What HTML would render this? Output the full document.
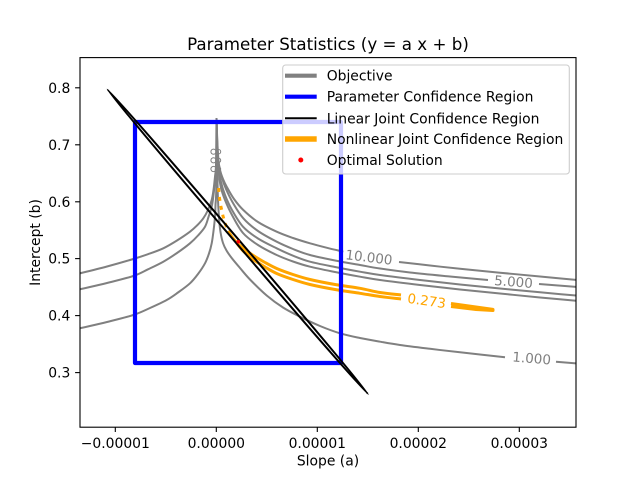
<!DOCTYPE html>
<html><head><meta charset="utf-8"><style>
html,body{margin:0;padding:0;background:#fff;}
svg{display:block;}
text{font-family:"DejaVu Sans","Liberation Sans",sans-serif;}
</style></head><body>
<svg id="fig" width="640" height="480" viewBox="0 0 640 480" xmlns="http://www.w3.org/2000/svg">
<defs><clipPath id="ax"><rect x="80" y="57.6" width="496" height="369.6"/></clipPath></defs>
<rect width="640" height="480" fill="#fff"/>
<g clip-path="url(#ax)" fill="none" stroke-linejoin="round" stroke-linecap="butt">
 <g stroke="#808080" stroke-width="2">
  <polyline class="s" points="216.5,118 216.5,160 215,176.7 213.5,190 211.7,200 208,210 203.3,218.3 197,225.5 190,231.7 177,240.5 163.3,248.3 148,254.2 133.3,259 107,266.5 80,273.3 60,278"/>
  <polyline class="s" points="216.5,118 216,165 215,180 213.5,195 211.7,206.7 208.5,217 205,226.7 198,235.5 190,243.3 177,253 163.3,261.7 148,269.3 133.3,276 107,283 80,289.3 60,294"/>
  <polyline class="s" points="216.5,118 216.3,186.7 215.5,205 215,216.7 213.5,231 211.7,243.3 209,253.5 205,263.3 198,274 190,283.3 178,292.5 166.7,300 150,308 133.3,315 107,322 80,328.3 60,333"/>
  <polyline class="s" points="216.5,118 217,140 218,158 220,170 223,179 226.7,186.7 234,199 243.3,210 258,222 276.7,231.7 293,238 310,243.3 327,247.8 343.3,251.7"/>
  <polyline class="s" points="399,262 430,265.5 460,268.8 500,272.7 540,276.5 590,281.2"/>
  <polyline class="s" points="216.5,118 217.5,145 219,165 222,178 226,189 233,203 243.3,218.3 258,231 276.7,241.7 293,249 310,255 335,260.5 360,265 380,268.5 410,272.5 450,276.5 488,280"/>
  <polyline class="s" points="539,284 590,288"/>
  <polyline class="s" points="216.5,118 217.5,150 219,170 221,182 225,195 232,210 243,226.7 258,238.5 276.7,248.3 293,255.7 310,261.7 335,267 360,271.7 380,275 420,280 460,284.5 500,288.5 540,292.3 590,296.8"/>
  <polyline class="s" points="216.5,118 217.5,155 219,175 221,188 225,200 232,215 243,233 258,245 276.7,255 293,261.5 310,266.7 335,272 360,276.7 380,280 420,285 460,289.5 500,293.5 540,297.5 590,302"/>
  <polyline class="s" points="216.5,118 217,160 217.8,195 219,218 220.5,232 223,243 226.5,250.5 231.7,258 240,268 250,279.5 266.7,295.5 283,307.5 300,316.7 320,326 340,333.3 360,338 380,341.7 400,345 430,348.8 460,352.3 505,357.3"/>
  <polyline class="s" points="556,361.7 590,364.5"/>
 </g>
 <g stroke="#808080" stroke-width="1" fill="none">
  <circle cx="213.5" cy="151.7" r="2.6"/><circle cx="213.5" cy="160.3" r="2.6"/><circle cx="213.5" cy="169" r="2.6"/>
  <circle cx="218.5" cy="151.7" r="2.2"/><circle cx="218.5" cy="160.3" r="2.2"/><circle cx="218.5" cy="169" r="2.2"/>
 </g>
 <g stroke="#ffa500" stroke-width="3">
  <polyline points="218.5,188 219.5,198 221,207 223,216 225,223 228,231" stroke-dasharray="4,5"/>
  <polyline class="s" points="228,231 232,237 236.7,242.5 243.3,248.3 253.3,255.5 265,262.5 276.7,268.5 293,274.5 310,279.5 335,284.5 360,288.3 380,292.5 401,295"/>
  <polyline class="s" points="236.7,243 243.3,251 253.3,259.5 265,267 276.7,273.5 293,279.5 310,284.5 335,289.5 360,293.3 380,296.5 401,299"/>
  <polyline points="451,303.5 476,307 493,309.3 493,310.5 476,309.5 451,306.5"/>
 </g>
 <rect x="135" y="122" width="206" height="241" stroke="#0000ff" stroke-width="4.2" fill="none"/>
 <ellipse cx="237.75" cy="241.75" rx="200.4" ry="2" transform="rotate(49.45 237.75 241.75)" stroke="#000" stroke-width="2" fill="none"/>
 <circle cx="238.3" cy="241.7" r="1.8" fill="#ff0000" stroke="none"/>
</g>
<g font-size="13.5" fill="#808080">
 <text x="369" y="262" text-anchor="middle" transform="rotate(7 369 257)">10.000</text>
 <text x="513.5" y="286.5" text-anchor="middle" transform="rotate(4.5 513.5 281.7)">5.000</text>
 <text x="531.7" y="363" text-anchor="middle" transform="rotate(4.8 531.7 358.3)">1.000</text>
 <text x="426.7" y="305.5" text-anchor="middle" fill="#ffa500" transform="rotate(8 426.7 300.7)">0.273</text>
</g>
<rect x="80" y="57.6" width="496" height="369.6" fill="none" stroke="#000" stroke-width="1.1"/>
<g stroke="#000" stroke-width="1.1">
 <line x1="115.3" y1="427.2" x2="115.3" y2="432"/>
 <line x1="216.3" y1="427.2" x2="216.3" y2="432"/>
 <line x1="317.3" y1="427.2" x2="317.3" y2="432"/>
 <line x1="418.3" y1="427.2" x2="418.3" y2="432"/>
 <line x1="519.3" y1="427.2" x2="519.3" y2="432"/>
 <line x1="75.1" y1="87.8" x2="80" y2="87.8"/>
 <line x1="75.1" y1="144.8" x2="80" y2="144.8"/>
 <line x1="75.1" y1="201.8" x2="80" y2="201.8"/>
 <line x1="75.1" y1="258.6" x2="80" y2="258.6"/>
 <line x1="75.1" y1="315.6" x2="80" y2="315.6"/>
 <line x1="75.1" y1="372.6" x2="80" y2="372.6"/>
</g>
<g font-size="13.9" fill="#000">
 <text x="115.3" y="448" text-anchor="middle">−0.00001</text>
 <text x="216.3" y="448" text-anchor="middle">0.00000</text>
 <text x="317.3" y="448" text-anchor="middle">0.00001</text>
 <text x="418.3" y="448" text-anchor="middle">0.00002</text>
 <text x="519.3" y="448" text-anchor="middle">0.00003</text>
 <text x="70.3" y="92.8" text-anchor="end">0.8</text>
 <text x="70.3" y="149.8" text-anchor="end">0.7</text>
 <text x="70.3" y="206.8" text-anchor="end">0.6</text>
 <text x="70.3" y="263.6" text-anchor="end">0.5</text>
 <text x="70.3" y="320.6" text-anchor="end">0.4</text>
 <text x="70.3" y="377.6" text-anchor="end">0.3</text>
 <text x="328" y="465.5" text-anchor="middle">Slope (a)</text>
 <text x="0" y="0" text-anchor="middle" transform="translate(40 242.5) rotate(-90)">Intercept (b)</text>
</g>
<text x="328" y="50" text-anchor="middle" font-size="16.7" fill="#000">Parameter Statistics (y = a x + b)</text>
<rect x="282.7" y="65" width="286.6" height="109" rx="3" ry="3" fill="#fff" fill-opacity="0.8" stroke="#cccccc" stroke-width="1.1"/>
<g stroke-linecap="butt">
 <line x1="285" y1="75.7" x2="316.7" y2="75.7" stroke="#808080" stroke-width="4.2"/>
 <line x1="285" y1="96.7" x2="316.7" y2="96.7" stroke="#0000ff" stroke-width="4.2"/>
 <line x1="285" y1="118.3" x2="316.7" y2="118.3" stroke="#000" stroke-width="2"/>
 <line x1="285" y1="139" x2="316.7" y2="139" stroke="#ffa500" stroke-width="5.5"/>
</g>
<circle cx="300.8" cy="160" r="2.5" fill="#ff0000"/>
<g font-size="13.9" fill="#000">
 <text x="326.7" y="80.7">Objective</text>
 <text x="326.7" y="101.7">Parameter Confidence Region</text>
 <text x="326.7" y="123.3">Linear Joint Confidence Region</text>
 <text x="326.7" y="144">Nonlinear Joint Confidence Region</text>
 <text x="326.7" y="165">Optimal Solution</text>
</g>
</svg>
<script>
(function(){
  var NS="http://www.w3.org/2000/svg";
  var pls=document.querySelectorAll('polyline.s');
  for(var k=0;k<pls.length;k++){
    var pl=pls[k];
    var pts=pl.getAttribute('points').trim().split(/\s+/).map(function(p){return p.split(',').map(Number);});
    if(pts.length<3) continue;
    var d='M'+pts[0][0]+','+pts[0][1];
    for(var i=0;i<pts.length-1;i++){
      var p0=pts[i-1]||pts[i],p1=pts[i],p2=pts[i+1],p3=pts[i+2]||pts[i+1];
      var c1x=p1[0]+(p2[0]-p0[0])/6,c1y=p1[1]+(p2[1]-p0[1])/6;
      var c2x=p2[0]-(p3[0]-p1[0])/6,c2y=p2[1]-(p3[1]-p1[1])/6;
      d+=' C'+c1x.toFixed(2)+','+c1y.toFixed(2)+' '+c2x.toFixed(2)+','+c2y.toFixed(2)+' '+p2[0]+','+p2[1];
    }
    var path=document.createElementNS(NS,'path');
    path.setAttribute('d',d);
    for(var a=0;a<pl.attributes.length;a++){
      var at=pl.attributes[a];
      if(at.name!=='points'&&at.name!=='class') path.setAttribute(at.name,at.value);
    }
    pl.parentNode.replaceChild(path,pl);
  }
})();
</script>
</body></html>
